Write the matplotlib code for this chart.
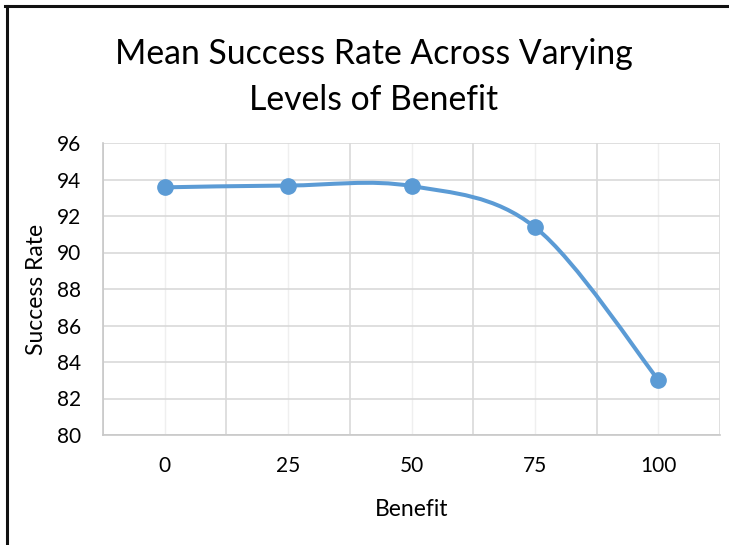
import matplotlib.pyplot as plt
from matplotlib.path import Path
from matplotlib.patches import PathPatch
from matplotlib.lines import Line2D

# mean success rate for each benefit level
benefit = ['0', '25', '50', '75', '100']
success_rate = [93.57, 93.67, 93.64, 91.39, 83.02]

line_color = '#5b9bd5'
grid_color = '#d9d9d9'

plt.rcParams['font.family'] = ['Lato', 'DejaVu Sans']

W, H = 729, 545
fig = plt.figure(figsize=(W / 100, H / 100), dpi=100, facecolor='w')
ax = fig.add_axes([103 / W, 1 - 435 / H, (720 - 103) / W, (435 - 143) / H])

xs = list(range(len(benefit)))
ys = success_rate

# smoothed line: cubic bezier segments through every point
verts = [(xs[0], ys[0])]
codes = [Path.MOVETO]
n = len(xs)
for i in range(n - 1):
    x0, y0 = xs[max(i - 1, 0)], ys[max(i - 1, 0)]
    x1, y1 = xs[i], ys[i]
    x2, y2 = xs[i + 1], ys[i + 1]
    x3, y3 = xs[min(i + 2, n - 1)], ys[min(i + 2, n - 1)]
    c1 = (x1 + (x2 - x0) / 6.0, y1 + (y2 - y0) / 6.0)
    c2 = (x2 - (x3 - x1) / 6.0, y2 - (y3 - y1) / 6.0)
    verts += [c1, c2, (x2, y2)]
    codes += [Path.CURVE4] * 3
ax.add_patch(PathPatch(Path(verts, codes), facecolor='none', edgecolor=line_color,
                       linewidth=2.9, capstyle='round', zorder=3))
ax.plot(xs, ys, linestyle='none', marker='o', markersize=11, color=line_color, zorder=4)

ax.set_xlim(-0.5, n - 0.5)
ax.set_ylim(80, 96)
ax.set_yticks(range(80, 97, 2))
ax.set_xticks(xs)
ax.set_xticklabels(benefit)
ax.set_xticks([i - 0.5 for i in range(n + 1)], minor=True)

ax.grid(True, axis='y', color=grid_color, linewidth=1.2)
ax.grid(True, axis='x', which='minor', color=grid_color, linewidth=1.2)
ax.grid(True, axis='x', which='major', color='#efefef', linewidth=1.0)
ax.set_axisbelow(True)

for s in ['top', 'right']:
    ax.spines[s].set_visible(False)
for s in ['left', 'bottom']:
    ax.spines[s].set_color('#c8c8c8')
    ax.spines[s].set_linewidth(1.2)

ax.tick_params(which='both', length=0)
ax.tick_params(axis='x', pad=15, labelsize=15)
ax.tick_params(axis='y', pad=16, labelsize=15)

ax.set_xlabel('Benefit', fontsize=16.5, labelpad=17)
ax.set_ylabel('Success Rate', fontsize=16.5, labelpad=7)

fig.text(374 / W, 1 - 77 / H, 'Mean Success Rate Across Varying\nLevels of Benefit',
         ha='center', va='center', fontsize=24.3, linespacing=1.55)

# frame lines on the left and top edges
fig.add_artist(Line2D([6.5 / W, 6.5 / W], [0, 1 - 5.5 / H], transform=fig.transFigure,
                      color='#111111', linewidth=2.2))
fig.add_artist(Line2D([5 / W, 1], [1 - 5.5 / H, 1 - 5.5 / H], transform=fig.transFigure,
                      color='#111111', linewidth=2.2))

fig.savefig('out.png', dpi=100)
